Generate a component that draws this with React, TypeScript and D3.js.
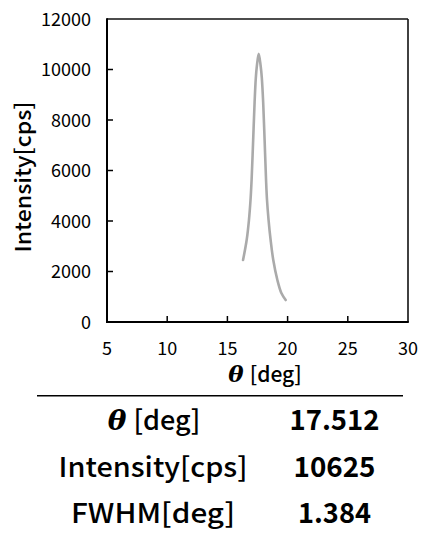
import React from "react";
import * as d3 from "d3";

const thetaVals = [16.30, 16.60, 16.79, 16.92, 17.01, 17.14, 17.26, 17.36, 17.45, 17.60, 17.76, 17.86, 17.97, 18.09, 18.21, 18.29, 18.42, 18.59, 18.81, 19.15, 19.48, 19.84];
const intensityVals = [2455, 3247, 4039, 4831, 5623, 7207, 8712, 9662, 10150, 10625, 10150, 9662, 8712, 7207, 5623, 4831, 4039, 3247, 2455, 1663, 1148, 871];
const xTicks = [5, 10, 15, 20, 25, 30];
const yTicks = [0, 2000, 4000, 6000, 8000, 10000, 12000];
const tableLabels = ["[deg]", "Intensity[cps]", "FWHM[deg]"];
const tableValues = ["17.512", "10625", "1.384"];

const FONT = "'Noto Sans CJK JP', 'Noto Sans', sans-serif";

export default function App() {
  const left = 107, right = 408, top = 19, bottom = 322;
  const x = d3.scaleLinear().domain([5, 30]).range([left, right]);
  const y = d3.scaleLinear().domain([0, 12000]).range([bottom, top]);
  const pts = thetaVals.map((t, i) => [t, intensityVals[i]] as [number, number]);
  const line = d3
    .line<[number, number]>()
    .x((d) => x(d[0]))
    .y((d) => y(d[1]))
    .curve(d3.curveCatmullRom.alpha(0.5));

  const rowY = [430, 477, 523];
  const labelLens = [0, 189, 164];
  const valueLens = [90, 82, 73];

  return (
    <svg
      width={422}
      height={533}
      style={{ position: "absolute", left: 0, top: 0, background: "#fff" }}
      fontFamily={FONT}
    >
      <rect x={0} y={0} width={422} height={533} fill="#fff" />
      <line x1={left} y1={top} x2={right} y2={top} stroke="#111" strokeWidth={1.6} />
      <line x1={right} y1={top} x2={right} y2={bottom} stroke="#111" strokeWidth={1.6} />
      <line x1={left} y1={top - 0.8} x2={left} y2={bottom + 1} stroke="#000" strokeWidth={2} />
      <line x1={left - 1} y1={bottom} x2={right + 0.8} y2={bottom} stroke="#000" strokeWidth={2} />
      {yTicks.map((t) => (
        <g key={"y" + t}>
          {t > 0 && t < 12000 && (
            <line x1={left} x2={left + 6} y1={y(t)} y2={y(t)} stroke="#000" strokeWidth={1.5} />
          )}
          <text x={91} y={y(t) + 6.5} textAnchor="end" fontSize={18} fill="#000">
            {t}
          </text>
        </g>
      ))}
      {xTicks.map((t) => (
        <g key={"x" + t}>
          {t > 5 && t < 30 && (
            <line x1={x(t)} x2={x(t)} y1={bottom} y2={bottom - 6} stroke="#000" strokeWidth={1.5} />
          )}
          <text x={x(t)} y={355} textAnchor="middle" fontSize={18} fill="#000">
            {t}
          </text>
        </g>
      ))}
      <path d={line(pts) || ""} fill="none" stroke="#aaaaaa" strokeWidth={2.6} strokeLinecap="round" strokeLinejoin="round" />
      <text
        transform="translate(30.5,177) rotate(-90)"
        textAnchor="middle"
        fontSize={22}
        fontWeight={500}
        fill="#000"
        textLength={151}
        lengthAdjust="spacingAndGlyphs"
      >
        Intensity[cps]
      </text>
      <text x={265} y={382} textAnchor="middle" fontSize={21} fontWeight={500} fill="#000">
        <tspan fontFamily="'DejaVu Serif', serif" fontStyle="italic" fontWeight={700} fontSize={23}>θ</tspan>
        <tspan dx={6}>[deg]</tspan>
      </text>
      <line x1={37} x2={403} y1={395.7} y2={395.7} stroke="#000" strokeWidth={1.6} />
      {tableLabels.map((l, i) =>
        i === 0 ? (
          <text key={"l" + i} x={154} y={rowY[i]} textAnchor="middle" fontSize={27} fontWeight={500} fill="#000">
            <tspan fontFamily="'DejaVu Serif', serif" fontStyle="italic" fontWeight={700} fontSize={28}>θ</tspan>
            <tspan dx={7}>{l}</tspan>
          </text>
        ) : (
          <text
            key={"l" + i}
            x={153}
            y={rowY[i]}
            textAnchor="middle"
            fontSize={27}
            fontWeight={500}
            fill="#000"
            textLength={labelLens[i]}
            lengthAdjust="spacingAndGlyphs"
          >
            {l}
          </text>
        )
      )}
      {tableValues.map((v, i) => (
        <text
          key={"v" + i}
          x={334.5}
          y={rowY[i]}
          textAnchor="middle"
          fontSize={28}
          fontWeight={700}
          fill="#000"
          textLength={valueLens[i]}
          lengthAdjust="spacingAndGlyphs"
        >
          {v}
        </text>
      ))}
    </svg>
  );
}
